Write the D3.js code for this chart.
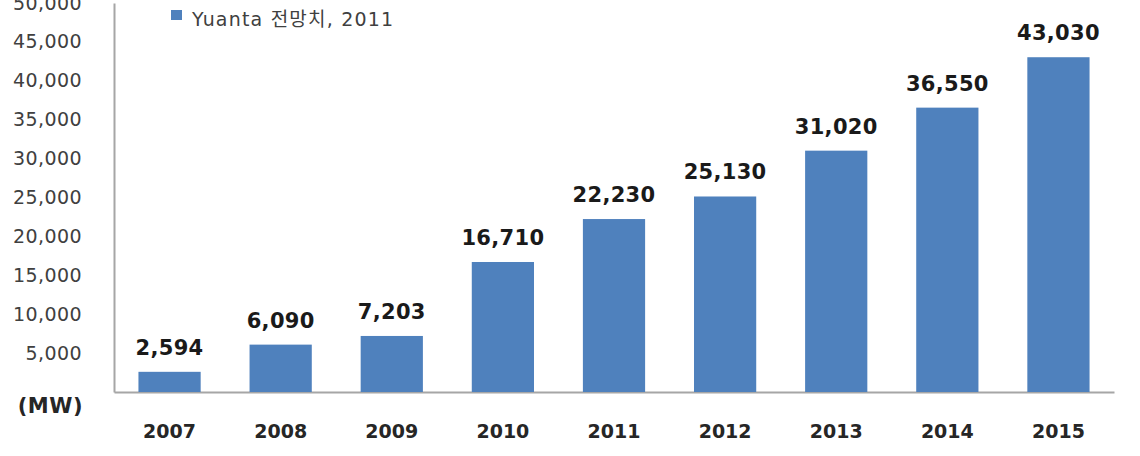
<!DOCTYPE html>
<html>
<head>
<meta charset="utf-8">
<script src="https://cdn.jsdelivr.net/npm/d3@7"></script>
<style>
  body { margin: 0; background: #fff; }
  svg { display: block; font-family: "DejaVu Sans", "Noto Sans CJK KR", sans-serif; }
</style>
</head>
<body>
<figure id="chart" style="margin:0"></figure>
<script>
const years = ["2007", "2008", "2009", "2010", "2011", "2012", "2013", "2014", "2015"];
const capacity = [2594, 6090, 7203, 16710, 22230, 25130, 31020, 36550, 43030];
const yTicks = [5000, 10000, 15000, 20000, 25000, 30000, 35000, 40000, 45000, 50000];
const seriesName = "Yuanta 전망치, 2011";
const unitLabel = "(MW)";

const width = 1140, height = 456;
const plotLeft = 114, plotRight = 1114, plotTop = 3, plotBottom = 392;
const barColor = "#4f81bd";

const svg = d3.select("figure#chart")
  .append("svg")
  .attr("width", width)
  .attr("height", height);

const x = d3.scaleBand()
  .domain(years)
  .range([plotLeft, plotRight])
  .paddingInner(0.44)
  .paddingOuter(0.22);

const y = d3.scaleLinear()
  .domain([0, 50000])
  .range([plotBottom, plotTop]);

// y axis
const yAxis = svg.append("g")
  .attr("transform", `translate(${plotLeft},0)`)
  .call(d3.axisLeft(y).tickValues(yTicks).tickSize(0).tickPadding(32)
    .tickFormat(d3.format(",")));
yAxis.select(".domain").attr("stroke", "#a6a6a6").attr("stroke-width", 2);
yAxis.selectAll("text")
  .attr("font-size", 19)
  .attr("letter-spacing", 0.4)
  .attr("fill", "#404040")
  .attr("font-family", "DejaVu Sans");

// x axis
const xAxis = svg.append("g")
  .attr("transform", `translate(0,${plotBottom})`)
  .call(d3.axisBottom(x).tickSize(0).tickPadding(33));
xAxis.select(".domain").attr("stroke", "#a6a6a6").attr("stroke-width", 2);
xAxis.selectAll("text")
  .attr("font-size", 19)
  .attr("font-weight", "bold")
  .attr("fill", "#262626")
  .attr("font-family", "DejaVu Sans");

// bars
const data = years.map((yr, i) => ({ year: yr, value: capacity[i] }));
svg.append("g")
  .selectAll("rect")
  .data(data)
  .join("rect")
    .attr("x", d => x(d.year))
    .attr("y", d => y(d.value))
    .attr("width", x.bandwidth())
    .attr("height", d => y(0) - y(d.value))
    .attr("fill", barColor);

// value labels
svg.append("g")
  .attr("text-anchor", "middle")
  .attr("font-size", 21)
  .attr("font-weight", "bold")
  .attr("letter-spacing", 0.3)
  .attr("fill", "#1a1a1a")
  .selectAll("text")
  .data(data)
  .join("text")
    .attr("x", d => x(d.year) + x.bandwidth() / 2)
    .attr("y", d => y(d.value) - 17)
    .text(d => d3.format(",")(d.value));

// unit label
svg.append("text")
  .attr("x", 83)
  .attr("y", 413)
  .attr("text-anchor", "end")
  .attr("font-size", 21)
  .attr("font-weight", "bold")
  .attr("letter-spacing", 0.5)
  .attr("fill", "#262626")
  .text(unitLabel);

// legend
const legend = svg.append("g").attr("transform", "translate(171,10)");
legend.append("rect")
  .attr("width", 11).attr("height", 10)
  .attr("fill", barColor);
legend.append("text")
  .attr("x", 21).attr("y", 16)
  .attr("font-size", 19)
  .attr("letter-spacing", 1.2)
  .attr("fill", "#404040")
  .text(seriesName);
</script>
</body>
</html>
